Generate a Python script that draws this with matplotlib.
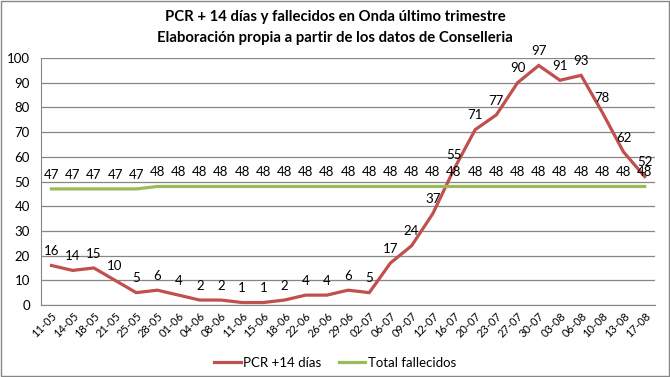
import matplotlib; matplotlib.use("Agg")
import matplotlib.pyplot as plt
from matplotlib.patches import Rectangle

fechas = ["11-05","14-05","18-05","21-05","25-05","28-05","01-06","04-06","08-06","11-06",
          "15-06","18-06","22-06","26-06","29-06","02-07","06-07","09-07","12-07","16-07",
          "20-07","23-07","27-07","30-07","03-08","06-08","10-08","13-08","17-08"]
pcr = [16,14,15,10,5,6,4,2,2,1,1,2,4,4,6,5,17,24,37,55,71,77,90,97,91,93,78,62,52]
fallecidos = [47]*5 + [48]*24

RED = "#C0504D"; GREEN = "#9BBB59"; GRID = "#868686"
plt.rcParams.update({"font.family": ["Lato", "DejaVu Sans"]})

fig = plt.figure(figsize=(6.7, 3.77), dpi=100)
ax = fig.add_axes([0.061, 0.191, 0.917, 0.655])
x = list(range(len(fechas)))
ax.plot(x, pcr, color=RED, lw=2.3, label="PCR +14 días", solid_joinstyle="miter")
ax.plot(x, fallecidos, color=GREEN, lw=2.3, label="Total fallecidos")
for i in x:
    ax.annotate(str(pcr[i]), (i, pcr[i]), xytext=(0, 6), textcoords="offset points",
                ha="center", va="bottom", fontsize=9.5, color="#000")
    ax.annotate(str(fallecidos[i]), (i, fallecidos[i]), xytext=(0, 6), textcoords="offset points",
                ha="center", va="bottom", fontsize=9.5, color="#000")

ax.set_xlim(-0.5, len(fechas) - 0.5)
ax.set_ylim(0, 100)
ax.set_yticks(range(0, 101, 10))
ax.set_xticks(x)
ax.set_xticklabels(fechas, rotation=45, ha="right", rotation_mode="anchor", fontsize=8)
ax.tick_params(axis="y", labelsize=9.5, length=0, pad=8)
ax.tick_params(axis="x", length=0, pad=4)
ax.grid(axis="y", color=GRID, lw=0.9)
ax.set_axisbelow(True)
for s in ["top", "right"]:
    ax.spines[s].set_visible(False)
ax.spines["left"].set_color(GRID)
ax.spines["bottom"].set_color(GRID)

fig.text(0.5, 0.955, "PCR + 14 días y fallecidos en Onda último trimestre",
         ha="center", va="center", fontsize=10.7, fontweight="bold")
fig.text(0.5, 0.9, "Elaboración propia a partir de los datos de Conselleria",
         ha="center", va="center", fontsize=10.7, fontweight="bold")
fig.legend(loc="center", bbox_to_anchor=(0.5, 0.037), ncol=2, frameon=False,
           fontsize=9.5, handlelength=2.0, columnspacing=1.3, handletextpad=0.2)
fig.patches.append(Rectangle((0.002, 0.003), 0.996, 0.994, transform=fig.transFigure,
                             fill=False, edgecolor=GRID, lw=1))
fig.savefig("out.png", dpi=100)
